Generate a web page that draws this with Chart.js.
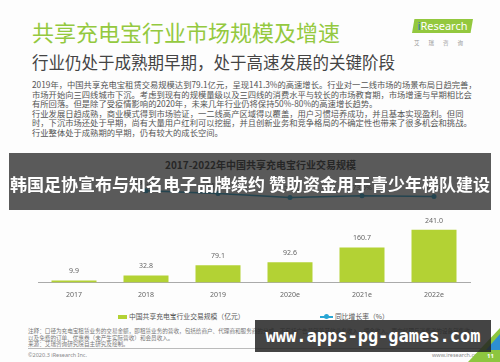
<!DOCTYPE html>
<html>
<head>
<meta charset="utf-8">
<script src="https://cdn.jsdelivr.net/npm/chart.js@4.4.1/dist/chart.umd.min.js"></script>
<style>
body{margin:0;width:500px;height:362px;overflow:hidden;background:#fdfdfd;position:relative;font-family:"Noto Sans CJK SC","Noto Sans",sans-serif}
.abs{position:absolute;white-space:nowrap}
#titulo{left:32px;top:19px;font-size:22px;line-height:24px;color:#94c93f}
#subtitulo{left:32px;top:52px;font-size:16.5px;line-height:20px;color:#444}
#texto{left:32px;top:80px;font-size:8.3px;line-height:9.5px;color:#555}
#logo{left:412px;top:19px;width:61px;height:14px;background:#93c83e;clip-path:polygon(4% 0,100% 0,96% 100%,0 100%);color:#fff;font:11px/14px "Noto Sans",sans-serif;text-align:center}
#logo b{color:#2a6fb8;font-weight:normal}
#logosub{left:414px;top:39px;font-size:5.5px;color:#999;letter-spacing:9px}
#tituloGrafico{left:0;width:521px;top:158px;text-align:center;font-size:10px;line-height:14px;font-weight:bold;color:#333}
#caixa{position:absolute;left:0;top:150px;width:500px;height:160px}
#legenda{left:0;top:312px;font-size:6.8px;line-height:8px;color:#555;width:500px;height:8px}
#legenda span{position:absolute;top:0}
.sw{display:inline-block;vertical-align:middle;margin-right:2px}
#notas{left:28px;top:328px;font-size:5.6px;line-height:6.5px;color:#777}
#sep{position:absolute;left:28px;top:348px;width:462px;height:0;border-top:1px solid #bbb}
#copy{left:28px;top:352px;font:5.5px/6px "Noto Sans",sans-serif;color:#888}
#site{left:432px;top:352px;font:5.5px/6px "Noto Sans",sans-serif;color:#888}
#faixa{position:absolute;left:9px;top:153px;width:482px;height:57px;background:rgba(35,35,35,0.75);color:#fff;font-weight:bold;font-size:17px;line-height:57px;text-align:center;padding-top:2px;box-sizing:border-box;white-space:nowrap;overflow:hidden}
#marca{position:absolute;left:255px;top:320px;width:236px;height:32px;background:rgba(35,35,35,0.85);color:#fff;font:bold 17px/32px "DejaVu Sans Mono",monospace;text-align:center}
#verde{position:absolute;left:0;top:0;width:500px;height:362px;background:#8dc63f;clip-path:polygon(468px 362px,500px 328px,500px 362px)}
#azul{position:absolute;left:0;top:0;width:500px;height:362px;background:#2d8fd2;clip-path:polygon(486px 350px,500px 334px,500px 350px)}
#pag{left:487px;top:353px;font:bold 6px/7px "Noto Sans",sans-serif;color:#fff}
</style>
</head>
<body>
<div class="abs" id="titulo">共享充电宝行业市场规模及增速</div>
<div class="abs" id="subtitulo">行业仍处于成熟期早期，处于高速发展的关键阶段</div>
<div class="abs" id="texto">
<div>2019年，中国共享充电宝租赁交易规模达到79.1亿元，呈现141.3%的高速增长。行业对一二线市场的场景布局日趋完善，</div>
<div>市场开始向三四线城市下沉。考虑到现有的规模量级以及三四线的消费水平与较长的市场教育期，市场增速与早期相比会</div>
<div>有所回落。但是除了受疫情影响的2020年，未来几年行业仍将保持50%-80%的高速增长趋势。</div>
<div>行业发展日趋成熟，商业模式得到市场验证，一二线高产区域得以覆盖，用户习惯培养成功，并且基本实现盈利。但同</div>
<div>时，下沉市场还处于早期，尚有大量用户红利可以挖掘，并且创新业务和竞争格局的不确定性也带来了很多机会和挑战。</div>
<div>行业整体处于成熟期的早期，仍有较大的成长空间。</div>
</div>
<div class="abs" id="logo"><b>i</b>Research</div>
<div class="abs" id="logosub">艾瑞咨询</div>

<div class="abs" id="tituloGrafico">2017-2022年中国共享充电宝行业交易规模</div>
<div id="caixa"><canvas id="grafico"></canvas></div>
<div class="abs" id="legenda"></div>

<div class="abs" id="notas">
<div>注释：口径为充电宝租赁业务的交易金额，即租赁业务的营收，包括给商户、代理商和服务商的分成，不包括广告营销等其他业务收入、押金收入、面向代理与消费者的设备销售收入，</div>
<div>以及免费的订单、优惠券（未产生实际营收）和会员收入。</div>
<div>来源：艾瑞咨询研究院自主研究及绘制。</div>
</div>
<div id="sep"></div>
<div class="abs" id="copy">©2020.3 iResearch Inc.</div>
<div class="abs" id="site">www.iresearch.com.cn</div>
<div id="verde"></div>
<div id="azul"></div>
<div class="abs" id="pag">11</div>

<div id="faixa">韩国足协宣布与知名电子品牌续约 赞助资金用于青少年梯队建设</div>
<div id="marca">www.apps-pg-games.com</div>

<script>
var anos = ['2017', '2018', '2019', '2020e', '2021e', '2022e'];
var escala = [9.9, 32.8, 79.1, 92.6, 160.7, 241.0];
var crescimento = [null, 231.3, 141.3, 17.1, 73.5, 50.0];
var nomes = ['中国共享充电宝行业交易规模（亿元）', '同比增长率（%）'];

var verdeBarra = '#b3d234';
var azulLinha = '#29a6d4';

// valores em cima das barras e dos pontos
var rotulos = {
    id: 'rotulos',
    afterDatasetsDraw: function(chart){
        var ctx = chart.ctx;
        ctx.save();
        ctx.font = '7px "Noto Sans", sans-serif';
        ctx.fillStyle = '#666';
        ctx.textAlign = 'center';
        ctx.textBaseline = 'middle';
        chart.getDatasetMeta(0).data.forEach(function(bar, i){
            ctx.fillText(escala[i].toFixed(1), bar.x, bar.y - 9);
        });
        chart.getDatasetMeta(1).data.forEach(function(pt, i){
            if (crescimento[i] == null) return;
            ctx.fillText(crescimento[i].toFixed(1) + '%', pt.x, pt.y - 8);
        });
        ctx.restore();
    }
};

var ctx = document.getElementById('grafico').getContext('2d');
var grafico = new Chart(ctx, {
    plugins: [rotulos],
    data: {
        labels: anos,
        datasets: [{
            type: 'bar',
            label: nomes[0],
            data: escala,
            backgroundColor: verdeBarra,
            borderWidth: 0,
            barPercentage: 0.625,
            categoryPercentage: 1,
            yAxisID: 'y',
            order: 1
        }, {
            type: 'line',
            label: nomes[1],
            data: crescimento,
            borderColor: azulLinha,
            backgroundColor: azulLinha,
            borderWidth: 1.5,
            pointRadius: 2.5,
            pointBackgroundColor: azulLinha,
            pointBorderWidth: 0,
            tension: 0,
            yAxisID: 'y1',
            order: 0
        }]
    },
    options: {
        responsive: true,
        maintainAspectRatio: false,
        animation: false,
        layout: {
            padding: {left: 38, right: 30, top: 28, bottom: 3}
        },
        plugins: {
            legend: {display: false},
            title: {display: false},
            tooltip: {enabled: false}
        },
        scales: {
            x: {
                grid: {display: false, drawTicks: false},
                border: {display: true, color: '#aaa', width: 1},
                ticks: {
                    padding: 8,
                    color: '#666',
                    font: {family: '"Noto Sans", sans-serif', size: 7}
                }
            },
            y: {
                display: false,
                min: 0,
                max: 478
            },
            y1: {
                display: false,
                position: 'right',
                min: -2690,
                max: 635
            }
        }
    }
});

// legenda em html, montada a partir dos datasets
var posLegenda = [118, 320];
var legenda = document.getElementById('legenda');
grafico.data.datasets.forEach(function(ds, i){
    var item = document.createElement('span');
    item.style.left = posLegenda[i] + 'px';
    var sw;
    if (ds.type == 'bar') {
        sw = '<i class="sw" style="width:9px;height:4px;background:' + ds.backgroundColor + '"></i>';
    } else {
        sw = '<i class="sw" style="position:relative;width:13px;height:1.5px;background:' + ds.borderColor + '">'
           + '<i style="position:absolute;left:4px;top:-2px;width:5px;height:5px;border-radius:50%;background:' + ds.borderColor + '"></i></i>';
    }
    item.innerHTML = sw + ds.label;
    legenda.appendChild(item);
});
</script>
</body>
</html>
